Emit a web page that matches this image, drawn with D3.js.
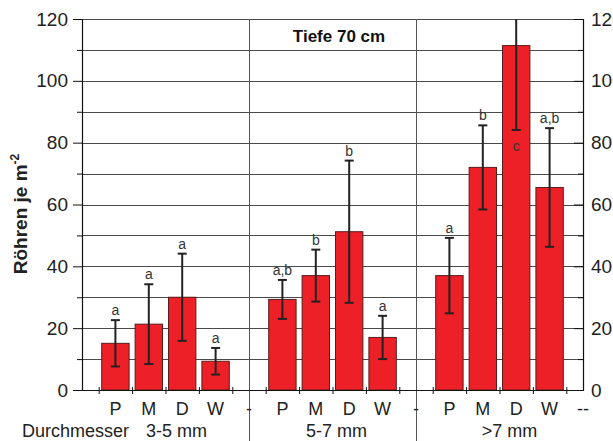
<!DOCTYPE html>
<html><head><meta charset="utf-8">
<script src="https://cdn.jsdelivr.net/npm/d3@7"></script>
<style>
html,body{margin:0;padding:0;background:#fff;}
svg{display:block;font-family:"Liberation Sans",Arial,sans-serif;}
</style></head>
<body>
<svg id="c" width="613" height="441"></svg>
<script>
// ---- data ----
const categories = ["P","M","D","W"];
const groups = ["3-5 mm","5-7 mm",">7 mm"];
const means = [
  [15.1, 21.3, 30.0, 9.3],
  [29.3, 37.0, 51.2, 17.0],
  [37.0, 72.0, 111.4, 65.5]
];
const errors = [
  [7.5, 12.9, 14.1, 4.3],
  [6.3, 8.4, 23.0, 7.0],
  [12.2, 13.6, 27.3, 19.2]
];
const letters = [
  ["a","a","a","a"],
  ["a,b","b","b","a"],
  ["a","b","c","a,b"]
];
const yTicks = [0,20,40,60,80,100,120];
const yMinor = [10,30,50,70,90,110];
const title = "Tiefe 70 cm";
const xTitle = "Durchmesser";
const yTitle = "Röhren je m";

// ---- layout ----
const L = 82, R = 583, T = 19, B = 390;
const svg = d3.select("#c");
const x = d3.scaleLinear().domain([0,15]).range([L,R]);
const y = d3.scaleLinear().domain([0,120]).range([B,T]);
const step = x(1)-x(0);
const bw = step*0.82;
const slot = (g,i)=> 1 + g*5 + i;

const rows = [];
groups.forEach((g,gi)=>categories.forEach((c,ci)=>rows.push({
  g:gi, c:ci, cat:c, v:means[gi][ci], e:errors[gi][ci], lab:letters[gi][ci]
})));

// gridlines
svg.append("g").attr("transform",`translate(${L},0)`)
  .call(d3.axisLeft(y).tickValues(d3.range(0,121,10)).tickSize(-(R-L)).tickFormat(""))
  .call(g=>g.select(".domain").remove())
  .call(g=>g.selectAll("line").attr("stroke","#4a4a4a").attr("stroke-width",1).attr("shape-rendering","crispEdges"));

// group dividers
svg.append("g").selectAll("line").data([5,10]).join("line")
  .attr("x1",d=>Math.round(x(d))+0.5).attr("x2",d=>Math.round(x(d))+0.5)
  .attr("y1",T).attr("y2",441)
  .attr("stroke","#555").attr("stroke-width",1);

// bars
svg.append("g").selectAll("rect").data(rows).join("rect")
  .attr("x",d=>x(slot(d.g,d.c))-bw/2)
  .attr("width",bw)
  .attr("y",d=>y(d.v))
  .attr("height",d=>B-y(d.v))
  .attr("fill","#ed2027")
  .attr("stroke","#5a1c1c").attr("stroke-width",1);

// clip for error bars
svg.append("clipPath").attr("id","clip").append("rect")
  .attr("x",L).attr("y",T).attr("width",R-L).attr("height",B-T);
const eg = svg.append("g").attr("clip-path","url(#clip)");
const ebs = eg.selectAll("g").data(rows).join("g")
  .attr("transform",d=>`translate(${x(slot(d.g,d.c))},0)`);
ebs.append("line").attr("y1",d=>y(d.v+d.e)).attr("y2",d=>y(d.v-d.e))
  .attr("stroke","#222").attr("stroke-width",2);
ebs.append("line").attr("x1",-4.5).attr("x2",4.5).attr("y1",d=>y(d.v+d.e)).attr("y2",d=>y(d.v+d.e))
  .attr("stroke","#222").attr("stroke-width",2);
ebs.append("line").attr("x1",-4.5).attr("x2",4.5).attr("y1",d=>y(d.v-d.e)).attr("y2",d=>y(d.v-d.e))
  .attr("stroke","#222").attr("stroke-width",2);

// significance letters
svg.append("g").selectAll("text").data(rows).join("text")
  .attr("x",d=>x(slot(d.g,d.c)))
  .attr("y",d=> (d.v+d.e>120) ? y(d.v-d.e)+21 : y(d.v+d.e)-5)
  .attr("text-anchor","middle").attr("font-size",14).attr("fill","#333")
  .text(d=>d.lab);

// left axis
const la = svg.append("g").attr("transform",`translate(${L},0)`);
la.call(d3.axisLeft(y).tickValues(yMinor).tickSize(5).tickFormat(""))
  .call(g=>g.select(".domain").remove());
const lb = svg.append("g").attr("transform",`translate(${L},0)`);
lb.call(d3.axisLeft(y).tickValues(yTicks).tickSize(9).tickPadding(5).tickFormat(d3.format("d")));
// right axis
const ra = svg.append("g").attr("transform",`translate(${R},0)`);
ra.call(d3.axisRight(y).tickValues(yMinor).tickSize(-5).tickFormat(""))
  .call(g=>g.select(".domain").remove());
const rb = svg.append("g").attr("transform",`translate(${R},0)`);
rb.call(d3.axisRight(y).tickValues(yTicks).tickSize(-9).tickPadding(8).tickFormat(d3.format("d")));
[la,lb,ra,rb].forEach(g=>{
  g.selectAll("line").attr("stroke","#111").attr("stroke-width",1);
  g.selectAll(".domain").attr("stroke","#111").attr("stroke-width",1.2);
  g.selectAll("text").attr("font-size",19).attr("fill","#222")
    .attr("font-family","'Liberation Sans',Arial,sans-serif");
});
// extend baseline to left major tick
svg.append("line").attr("x1",L-9).attr("x2",R).attr("y1",B+0.5).attr("y2",B+0.5)
  .attr("stroke","#111").attr("stroke-width",1.2);

// bottom ticks at bar boundaries
const bounds = [];
[0,1,2].forEach(g=>{for(let i=0;i<=4;i++) bounds.push(1+g*5+i-0.5);});
const ba = svg.append("g").attr("transform",`translate(0,${B})`)
  .call(d3.axisBottom(x).tickValues(bounds).tickSize(4).tickFormat(""))
  .call(g=>g.select(".domain").remove());
ba.selectAll("line").attr("y1",-3).attr("stroke","#111").attr("stroke-width",1);

// category labels
const slotLabels = [];
groups.forEach((g,gi)=>categories.forEach((c,ci)=>slotLabels.push({s:slot(gi,ci),t:c})));
slotLabels.push({s:5,t:"-"},{s:10,t:"-"},{s:15,t:"--"});
svg.append("g").selectAll("text").data(slotLabels).join("text")
  .attr("x",d=>x(d.s)).attr("y",415)
  .attr("text-anchor","middle").attr("font-size",18).attr("fill","#222")
  .text(d=>d.t);

// x title and group labels
svg.append("text").attr("x",22).attr("y",437).attr("font-size",18).attr("fill","#222").text(xTitle);
const gx = [x(2.4)-x(0)+L-L, 0, 0];
svg.append("g").selectAll("text").data(groups).join("text")
  .attr("x",(d,i)=>x(2.5+i*5)+ (i===0?11:(i===1?4:10)))
  .attr("y",437).attr("text-anchor","middle").attr("font-size",18).attr("fill","#222")
  .text(d=>d);

// chart title
svg.append("text").attr("x",339).attr("y",42).attr("text-anchor","middle")
  .attr("font-size",17).attr("font-weight","bold").attr("fill","#111").text(title);

// y title
const yt = svg.append("text").attr("transform","translate(27,214) rotate(-90)")
  .attr("text-anchor","middle").attr("font-size",19).attr("font-weight","bold").attr("fill","#222");
yt.append("tspan").text(yTitle);
yt.append("tspan").attr("dy",-8).attr("font-size",12).text("-2");
</script>
</body></html>
